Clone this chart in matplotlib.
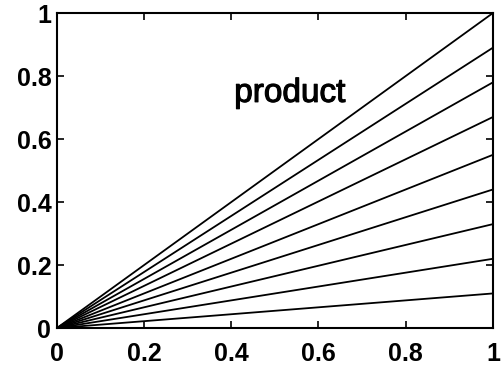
import matplotlib
matplotlib.use("Agg")
import matplotlib.pyplot as plt
import matplotlib.patheffects as pe
import numpy as np

# slopes of the lines, read from the y value at x = 1
slopes = [0.11, 0.22, 0.33, 0.44, 0.55, 0.67, 0.78, 0.89, 1.0]
x = np.array([0.0, 1.0])
ticks = [0, 0.2, 0.4, 0.6, 0.8, 1]
tick_labels = ['0', '0.2', '0.4', '0.6', '0.8', '1']

plt.rcParams['font.family'] = ['Liberation Sans', 'DejaVu Sans']

fig = plt.figure(figsize=(5.03, 3.72), dpi=100)
ax = fig.add_axes([0.113, 0.118, 0.867, 0.847])

for a in slopes:
    ax.plot(x, a * x, color='black', lw=1.3)

ax.set_xlim(0, 1)
ax.set_ylim(0, 1)
ax.set_xticks(ticks)
ax.set_yticks(ticks)
ax.set_xticklabels(tick_labels, fontsize=18, fontweight='bold')
ax.set_yticklabels(tick_labels, fontsize=18, fontweight='bold')
ax.tick_params(direction='in', length=5, width=1.2, top=True, right=True)
ax.tick_params(axis='x', pad=10)
ax.tick_params(axis='y', pad=4)
for s in ax.spines.values():
    s.set_linewidth(1.5)

ax.text(0.534, 0.745, 'product', fontsize=24, ha='center', va='center',
        path_effects=[pe.withStroke(linewidth=0.8, foreground='black')])

fig.savefig('out.png', dpi=100)
